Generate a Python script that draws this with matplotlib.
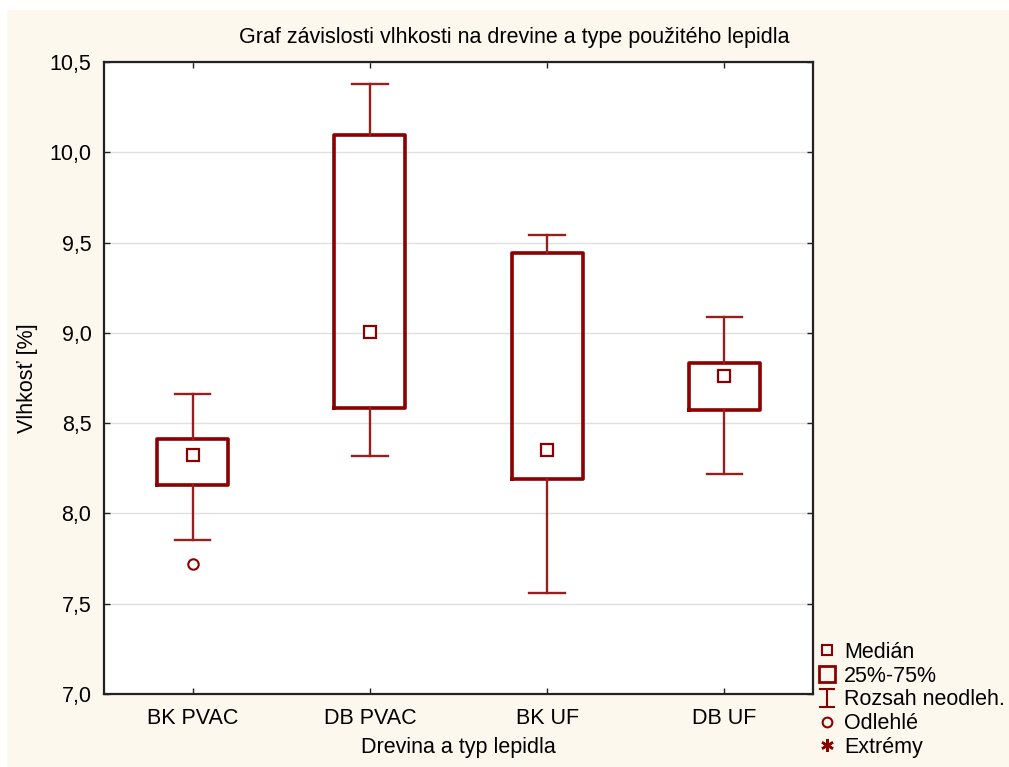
import matplotlib

matplotlib.use("Agg")
import matplotlib.pyplot as plt
from matplotlib.lines import Line2D
from matplotlib.patches import Rectangle
from matplotlib.path import Path
from matplotlib.ticker import FixedLocator, FuncFormatter

# Box plot summaries per wood/adhesive group
GROUPS = ["BK PVAC", "DB PVAC", "BK UF", "DB UF"]
MEDIAN = [8.326, 9.002, 8.353, 8.762]
Q1 = [8.159, 8.583, 8.189, 8.574]
Q3 = [8.414, 10.095, 9.442, 8.834]
WHISK_LO = [7.854, 8.316, 7.560, 8.216]
WHISK_HI = [8.664, 10.376, 9.540, 9.087]
OUTLIERS = [[7.721], [], [], []]

Y_TICKS = [7.0, 7.5, 8.0, 8.5, 9.0, 9.5, 10.0, 10.5]

RED = "#8b0000"
BEIGE = "#fdf8ee"
FONT = "Liberation Sans"
FS = 15.5

plt.rcParams["font.family"] = [FONT, "DejaVu Sans"]

fig = plt.figure(figsize=(10.09, 7.67), dpi=100, facecolor="white")
fig.patches.append(Rectangle((7 / 1009, 0), 1, 1 - 10 / 767, transform=fig.transFigure,
                             facecolor=BEIGE, edgecolor="none", zorder=-10))

ax = fig.add_axes([104 / 1009, 1 - 694 / 767, 709 / 1009, 632 / 767])
ax.set_facecolor("white")

stats = []
for i, name in enumerate(GROUPS):
    stats.append({
        "label": name,
        "med": MEDIAN[i],
        "q1": Q1[i],
        "q3": Q3[i],
        "whislo": WHISK_LO[i],
        "whishi": WHISK_HI[i],
        "fliers": OUTLIERS[i],
    })
positions = list(range(1, len(GROUPS) + 1))
ax.bxp(stats, positions=positions, widths=0.4, capwidths=0.2,
       boxprops=dict(color=RED, linewidth=2.6),
       whiskerprops=dict(color="#962020", linewidth=1.7),
       capprops=dict(color="#962020", linewidth=1.7),
       medianprops=dict(visible=False),
       flierprops=dict(marker="o", markersize=7.5, markerfacecolor="none",
                       markeredgecolor=RED, markeredgewidth=1.5),
       zorder=3)
ax.plot(positions, MEDIAN, linestyle="none", marker="s", markersize=8,
        markerfacecolor="white", markeredgecolor=RED, markeredgewidth=1.6, zorder=4)

ax.set_xlim(0.5, 4.5)
ax.set_ylim(7.0, 10.5)
ax.yaxis.set_major_locator(FixedLocator(Y_TICKS))
ax.yaxis.set_major_formatter(FuncFormatter(lambda v, _: f"{v:.1f}".replace(".", ",")))
ax.set_xticks(positions)
ax.set_xticklabels(GROUPS)
ax.grid(axis="y", color="#e0e0e0", linewidth=1.0, zorder=0)
ax.set_axisbelow(True)
ax.tick_params(direction="in", length=4, width=1.0, top=True, right=True,
               labelsize=FS, colors="#222222", labelcolor="black")
ax.tick_params(axis="x", pad=10)
ax.tick_params(axis="y", pad=9)
for sp in ax.spines.values():
    sp.set_color("#222222")
    sp.set_linewidth(1.6)

fig.text(514 / 1009, 1 - 37 / 767, "Graf závislosti vlhkosti na drevine a type použitého lepidla",
         ha="center", va="center", fontsize=FS)
fig.text(458 / 1009, 1 - 747 / 767, "Drevina a typ lepidla", ha="center", va="center", fontsize=FS)
fig.text(28 / 1009, 1 - 378 / 767, "Vlhkosť [%]", ha="center", va="center",
         rotation=90, fontsize=FS)

# I-shaped marker for the whisker range entry
range_marker = Path([(-0.45, 0.5), (0.45, 0.5), (0, 0.5), (0, -0.5), (-0.45, -0.5), (0.45, -0.5)],
                    [Path.MOVETO, Path.LINETO, Path.MOVETO, Path.LINETO, Path.MOVETO, Path.LINETO])

handles = [
    Line2D([], [], linestyle="none", marker="s", markersize=7.5, markerfacecolor="none",
           markeredgecolor=RED, markeredgewidth=1.5),
    Line2D([], [], linestyle="none", marker="s", markersize=11, markerfacecolor="none",
           markeredgecolor=RED, markeredgewidth=2.0),
    Line2D([], [], linestyle="none", marker=range_marker, markersize=12.5, markerfacecolor="none",
           markeredgecolor=RED, markeredgewidth=1.5),
    Line2D([], [], linestyle="none", marker="o", markersize=7, markerfacecolor="none",
           markeredgecolor=RED, markeredgewidth=1.5),
    Line2D([], [], linestyle="none", marker=(6, 2, 0), markersize=9,
           markeredgecolor=RED, markeredgewidth=1.8),
]
labels = ["Medián", "25%-75%", "Rozsah neodleh.", "Odlehlé", "Extrémy"]
fig.legend(handles, labels, loc="lower left", bbox_to_anchor=(817 / 1009, 9 / 767),
           frameon=False, fontsize=FS, handlelength=0.9, handletextpad=0.35,
           labelspacing=0.13, borderaxespad=0, borderpad=0)

fig.savefig("out.png", dpi=100, facecolor=fig.get_facecolor())
